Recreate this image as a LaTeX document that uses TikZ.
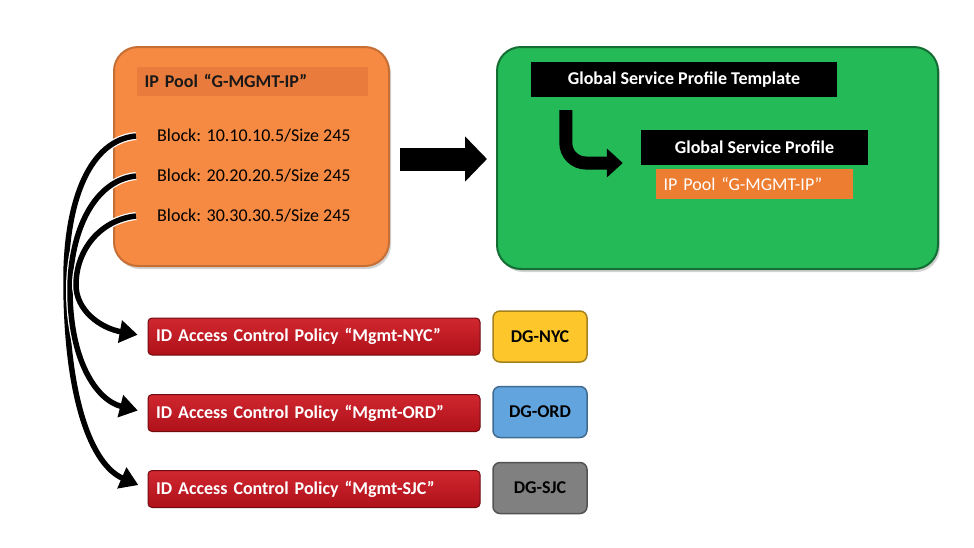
\documentclass[tikz,border=0pt]{standalone}
\usepackage{fontspec}
\setmainfont{Carlito}
\usetikzlibrary{arrows.meta,positioning,shadows}
\definecolor{poolorange}{RGB}{246,138,66}
\definecolor{poolhead}{RGB}{233,123,60}
\definecolor{gspgreen}{RGB}{36,186,88}
\definecolor{gspedge}{RGB}{20,110,52}
\definecolor{tagorange}{RGB}{237,125,49}
\definecolor{polred}{RGB}{205,20,30}
\definecolor{dgyellow}{RGB}{253,199,44}
\definecolor{dgblue}{RGB}{98,164,222}
\definecolor{dggray}{RGB}{128,128,128}

\begin{document}
\begin{tikzpicture}[x=1pt, y=-1pt,
    font=\fontsize{18}{21}\selectfont,
    panel/.style={rounded corners=24pt, line width=2pt,
      drop shadow={opacity=0.35, shadow xshift=2pt, shadow yshift=-3pt}},
    tag/.style={inner xsep=8pt, inner ysep=0pt, align=left},
    blackbar/.style={fill=black, text=white, font=\fontsize{18}{21}\selectfont\bfseries, inner sep=0pt},
    blocktxt/.style={inner sep=0pt, anchor=west, text=black},
    policy/.style={rounded corners=4pt, top color=polred!92!white, bottom color=polred!85!black,
      draw=polred!55!black, line width=1pt, minimum height=37pt, text width=316pt,
      inner xsep=8pt, inner ysep=0pt, align=left, text=white,
      font=\fontsize{18}{21}\selectfont\bfseries},
    dg/.style={rounded corners=7pt, fill=#1, draw=#1!65!black, line width=1.5pt,
      minimum width=94pt, minimum height=51pt, inner sep=0pt,
      font=\fontsize{18}{21}\selectfont\bfseries},
    flow/.style={line width=5.5pt, draw=black, -{Triangle[length=18pt,width=22pt]},
      preaction={draw=white, line width=8pt}, shorten >=10pt},
    bigarr/.style={line width=23pt, draw=black, -{Triangle[length=22pt,width=44pt]}},
    bendarr/.style={line width=13pt, draw=black, rounded corners=20pt,
      -{Triangle[length=16pt,width=28pt]}}
  ]
  \useasboundingbox (0,0) rectangle (974,547);

  % IP pool
  \node[panel, fill=poolorange, draw=poolorange!80!black, minimum width=275pt, minimum height=219pt] (pool) at (251.5,156.5) {};
  \node[tag, fill=poolhead, text width=215pt, minimum height=29pt, font=\fontsize{18}{21}\selectfont\bfseries, text=black!90] (poolhd) at (252,81) {IP Pool “G-MGMT-IP”};
  \node[blocktxt] (blk1) at (157,136) {Block: 10.10.10.5/Size 245};
  \node[blocktxt] (blk2) at (157,176) {Block: 20.20.20.5/Size 245};
  \node[blocktxt] (blk3) at (157,216) {Block: 30.30.30.5/Size 245};

  % global service profile
  \node[panel, fill=gspgreen, draw=gspedge, minimum width=441pt, minimum height=222pt] (gsp) at (717.5,158) {};
  \node[blackbar, minimum width=306pt, minimum height=35pt] (tmpl) at (684,79.5) {Global Service Profile Template};
  \node[blackbar, minimum width=227pt, minimum height=35pt] (gsprof) at (754.5,147.5) {Global Service Profile};
  \node[tag, fill=tagorange, text=white, inner xsep=7.5pt, text width=182pt, minimum height=30pt] (gsptag) at (754.5,184) {IP Pool “G-MGMT-IP”};
  \draw[bendarr] ([xshift=35pt,yshift=-13pt]tmpl.south west) |- ([xshift=-18pt,yshift=-15.5pt]gsprof.west);

  \draw[bigarr, shorten <=10pt, shorten >=9pt] ([yshift=-2.5pt]pool.east) -- ([yshift=-2.5pt]pool.east -| gsp.west);

  % policies and device groups
  \node[policy] (nyc) at (314,336.5) {ID Access Control Policy “Mgmt-NYC”};
  \node[policy] (ord) at (314,413) {ID Access Control Policy “Mgmt-ORD”};
  \node[policy] (sjc) at (314,489) {ID Access Control Policy “Mgmt-SJC”};
  \node[dg=dgyellow] (dgnyc) at (540,336.5) {DG-NYC};
  \node[dg=dgblue] (dgord) at (540,412) {DG-ORD};
  \node[dg=dggray] (dgsjc) at (540,488) {DG-SJC};

  \draw[flow] ([xshift=-21pt]blk1.west) .. controls (90,140) and (66,200) .. (66,280)
    .. controls (66,400) and (92,465) .. (sjc.west);
  \draw[flow] ([xshift=-21pt]blk2.west) .. controls (95,180) and (70,230) .. (70,290)
    .. controls (70,360) and (96,400) .. (ord.west);
  \draw[flow] ([xshift=-21pt]blk3.west) .. controls (100,220) and (76,250) .. (76,285)
    .. controls (76,310) and (100,328) .. (nyc.west);
\end{tikzpicture}
\end{document}
